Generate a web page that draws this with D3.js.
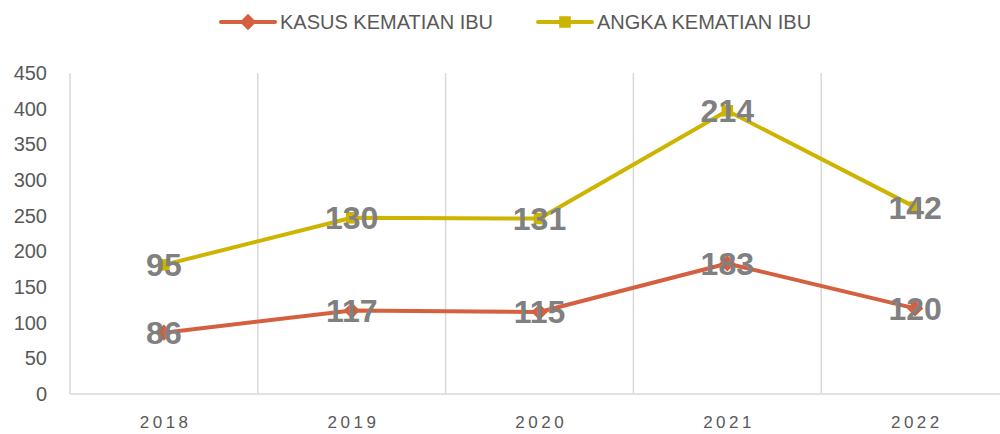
<!DOCTYPE html>
<html lang="id">
<head>
    <meta charset="UTF-8">
    <title>Kematian Ibu 2018-2022</title>
    <script src="https://d3js.org/d3.v7.min.js"></script>
    <style>
        body { margin: 0; background: #fff; }
        text { font-family: "Liberation Sans", Arial, sans-serif; }
        .tick-y { font-size: 20px; fill: #595959; }
        .tick-x { font-size: 17px; fill: #595959; letter-spacing: 3.5px; }
        .legend-label { font-size: 20px; fill: #595959; }
        .data-label { font-size: 32px; font-weight: bold; fill: #808080; }
    </style>
</head>
<body>
    <div id="chart"></div>
    <script>
        const years = ["2018", "2019", "2020", "2021", "2022"];
        const kasus = [86, 117, 115, 183, 120];
        const angka = [95, 130, 131, 214, 142];
        const yTicks = [0, 50, 100, 150, 200, 250, 300, 350, 400, 450];
        const seriesNames = ["KASUS KEMATIAN IBU", "ANGKA KEMATIAN IBU"];
        const seriesColors = ["#d5603f", "#ccb400"];

        const width = 1000, height = 434;
        const plot = { left: 70, right: 1009, top: 73, bottom: 394 };

        const svg = d3.select("#chart").append("svg")
            .attr("width", width)
            .attr("height", height);

        const x = d3.scaleBand().domain(years).range([plot.left, plot.right]);
        const y = d3.scaleLinear().domain([0, 450]).range([plot.bottom, plot.top]);

        // stacked line: second series sits on top of the first
        const stacked = [
            kasus.map((v, i) => ({ year: years[i], value: v, top: v })),
            angka.map((v, i) => ({ year: years[i], value: v, top: kasus[i] + v }))
        ];

        // vertical gridlines at category boundaries
        const edges = years.map(yr => x(yr)).concat([plot.right]);
        svg.append("g").selectAll("line")
            .data(edges)
            .join("line")
            .attr("x1", d => d).attr("x2", d => d)
            .attr("y1", plot.top).attr("y2", plot.bottom)
            .attr("stroke", "#d9d9d9")
            .attr("stroke-width", 1.5);

        // bottom axis line
        svg.append("line")
            .attr("x1", plot.left).attr("x2", plot.right)
            .attr("y1", plot.bottom).attr("y2", plot.bottom)
            .attr("stroke", "#d9d9d9")
            .attr("stroke-width", 1.5);

        // y tick labels
        svg.append("g").selectAll("text")
            .data(yTicks)
            .join("text")
            .attr("class", "tick-y")
            .attr("x", 47)
            .attr("y", d => y(d))
            .attr("dy", "0.35em")
            .attr("text-anchor", "end")
            .text(d => d);

        // x tick labels
        svg.append("g").selectAll("text")
            .data(years)
            .join("text")
            .attr("class", "tick-x")
            .attr("x", d => x(d) + x.bandwidth() / 2 + 1.75)
            .attr("y", 428)
            .attr("text-anchor", "middle")
            .text(d => d);

        const line = d3.line()
            .x(d => x(d.year) + x.bandwidth() / 2)
            .y(d => y(d.top));

        const diamond = d3.symbol().type(d3.symbolDiamond2).size(170);
        const square = d3.symbol().type(d3.symbolSquare2).size(170);
        const shapes = [diamond, square];

        stacked.forEach((s, i) => {
            svg.append("path")
                .datum(s)
                .attr("fill", "none")
                .attr("stroke", seriesColors[i])
                .attr("stroke-width", 4)
                .attr("stroke-linejoin", "round")
                .attr("d", line);

            svg.append("g").selectAll("path")
                .data(s)
                .join("path")
                .attr("transform", d => `translate(${x(d.year) + x.bandwidth() / 2},${y(d.top)})`)
                .attr("d", shapes[i])
                .attr("fill", seriesColors[i]);
        });

        // data labels centred on points
        stacked.forEach(s => {
            svg.append("g").selectAll("text")
                .data(s)
                .join("text")
                .attr("class", "data-label")
                .attr("x", d => x(d.year) + x.bandwidth() / 2)
                .attr("y", d => y(d.top))
                .attr("dy", "0.36em")
                .attr("text-anchor", "middle")
                .text(d => d.value);
        });

        // legend
        const legendItems = [
            { x: 221, textX: 280 },
            { x: 538, textX: 597 }
        ];
        legendItems.forEach((l, i) => {
            const g = svg.append("g").attr("transform", `translate(${l.x},22)`);
            g.append("line")
                .attr("x1", 0).attr("x2", 54)
                .attr("stroke", seriesColors[i])
                .attr("stroke-width", 4)
                .attr("stroke-linecap", "round");
            g.append("path")
                .attr("transform", "translate(27,0)")
                .attr("d", shapes[i])
                .attr("fill", seriesColors[i]);
            svg.append("text")
                .attr("class", "legend-label")
                .attr("x", l.textX)
                .attr("y", 22)
                .attr("dy", "0.36em")
                .text(seriesNames[i]);
        });
    </script>
</body>
</html>
